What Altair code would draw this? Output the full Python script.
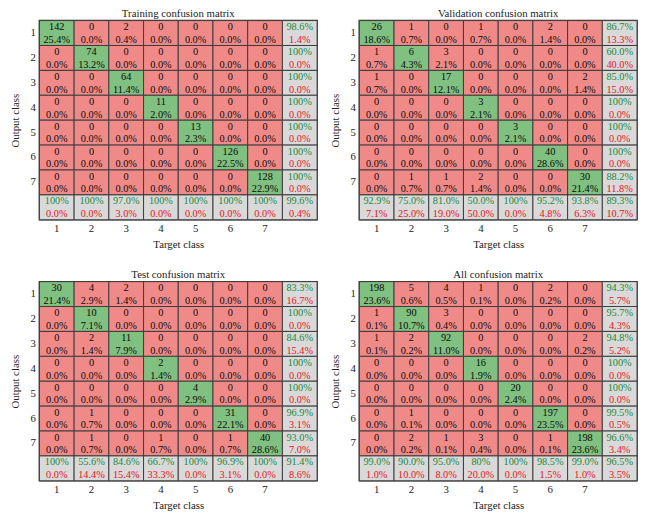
import altair as alt
import pandas as pd

FONT = "Liberation Serif"
ORDER = ["1", "2", "3", "4", "5", "6", "7", "8"]

# ---------------- data ----------------
train_counts = [
    [142, 0, 2, 0, 0, 0, 0],
    [0, 74, 0, 0, 0, 0, 0],
    [0, 0, 64, 0, 0, 0, 0],
    [0, 0, 0, 11, 0, 0, 0],
    [0, 0, 0, 0, 13, 0, 0],
    [0, 0, 0, 0, 0, 126, 0],
    [0, 0, 0, 0, 0, 0, 128],
]
train_row_sum = [("98.6%", "1.4%"), ("100%", "0.0%"), ("100%", "0.0%"), ("100%", "0.0%"),
                 ("100%", "0.0%"), ("100%", "0.0%"), ("100%", "0.0%")]
train_col_sum = [("100%", "0.0%"), ("100%", "0.0%"), ("97.0%", "3.0%"), ("100%", "0.0%"),
                 ("100%", "0.0%"), ("100%", "0.0%"), ("100%", "0.0%")]
train_total = ("99.6%", "0.4%")

val_counts = [
    [26, 1, 0, 1, 0, 2, 0],
    [1, 6, 3, 0, 0, 0, 0],
    [1, 0, 17, 0, 0, 0, 2],
    [0, 0, 0, 3, 0, 0, 0],
    [0, 0, 0, 0, 3, 0, 0],
    [0, 0, 0, 0, 0, 40, 0],
    [0, 1, 1, 2, 0, 0, 30],
]
val_row_sum = [("86.7%", "13.3%"), ("60.0%", "40.0%"), ("85.0%", "15.0%"), ("100%", "0.0%"),
               ("100%", "0.0%"), ("100%", "0.0%"), ("88.2%", "11.8%")]
val_col_sum = [("92.9%", "7.1%"), ("75.0%", "25.0%"), ("81.0%", "19.0%"), ("50.0%", "50.0%"),
               ("100%", "0.0%"), ("95.2%", "4.8%"), ("93.8%", "6.3%")]
val_total = ("89.3%", "10.7%")

test_counts = [
    [30, 4, 2, 0, 0, 0, 0],
    [0, 10, 0, 0, 0, 0, 0],
    [0, 2, 11, 0, 0, 0, 0],
    [0, 0, 0, 2, 0, 0, 0],
    [0, 0, 0, 0, 4, 0, 0],
    [0, 1, 0, 0, 0, 31, 0],
    [0, 1, 0, 1, 0, 1, 40],
]
test_row_sum = [("83.3%", "16.7%"), ("100%", "0.0%"), ("84.6%", "15.4%"), ("100%", "0.0%"),
                ("100%", "0.0%"), ("96.9%", "3.1%"), ("93.0%", "7.0%")]
test_col_sum = [("100%", "0.0%"), ("55.6%", "14.4%"), ("84.6%", "15.4%"), ("66.7%", "33.3%"),
                ("100%", "0.0%"), ("96.9%", "3.1%"), ("100%", "0.0%")]
test_total = ("91.4%", "8.6%")

all_counts = [
    [198, 5, 4, 1, 0, 2, 0],
    [1, 90, 3, 0, 0, 0, 0],
    [1, 2, 92, 0, 0, 0, 2],
    [0, 0, 0, 16, 0, 0, 0],
    [0, 0, 0, 0, 20, 0, 0],
    [0, 1, 0, 0, 0, 197, 0],
    [0, 2, 1, 3, 0, 1, 198],
]
all_row_sum = [("94.3%", "5.7%"), ("95.7%", "4.3%"), ("94.8%", "5.2%"), ("100%", "0.0%"),
               ("100%", "0.0%"), ("99.5%", "0.5%"), ("96.6%", "3.4%")]
all_col_sum = [("99.0%", "1.0%"), ("90.0%", "10.0%"), ("95.0%", "8.0%"), ("80%", "20.0%"),
               ("100%", "0.0%"), ("98.5%", "1.5%"), ("99.0%", "1.0%")]
all_total = ("96.5%", "3.5%")

W, H = 283, 203


def panel(title, counts, row_sum, col_sum, total):
    n = sum(sum(r) for r in counts)
    recs = []
    for i in range(7):
        for j in range(7):
            c = counts[i][j]
            recs.append(dict(row=ORDER[i], col=ORDER[j], kind="diag" if i == j else "off",
                             top=str(c), bot=f"{100 * c / n:.1f}%"))
        recs.append(dict(row=ORDER[i], col="8", kind="sum", top=row_sum[i][0], bot=row_sum[i][1]))
    for j in range(7):
        recs.append(dict(row="8", col=ORDER[j], kind="sum", top=col_sum[j][0], bot=col_sum[j][1]))
    recs.append(dict(row="8", col="8", kind="sum", top=total[0], bot=total[1]))
    df = pd.DataFrame(recs)

    lab = "datum.value == '8' ? '' : datum.value"
    base = alt.Chart(df).encode(
        x=alt.X("col:O", scale=alt.Scale(domain=ORDER, paddingInner=0, paddingOuter=0),
                axis=alt.Axis(title="Target class", labelAngle=0, labelExpr=lab, ticks=False,
                              domain=False, labelPadding=3, titlePadding=5, labelFontSize=11,
                              titleFontSize=11, titleFontWeight="normal", labelFont=FONT,
                              titleFont=FONT, labelColor="#222", titleColor="#222")),
        y=alt.Y("row:O", scale=alt.Scale(domain=ORDER, paddingInner=0, paddingOuter=0),
                axis=alt.Axis(title="Output class", labelExpr=lab, ticks=False, domain=False,
                              labelPadding=4, titlePadding=10, labelFontSize=11,
                              titleFontSize=11, titleFontWeight="normal", labelFont=FONT,
                              titleFont=FONT, labelColor="#222", titleColor="#222")),
    )
    rect = base.mark_rect(stroke="#3c3c3c", strokeWidth=1).encode(
        fill=alt.Fill("kind:N", scale=alt.Scale(domain=["diag", "off", "sum"],
                                                 range=["#80c080", "#f08a88", "#d9d9d9"]),
                      legend=None))
    txt = dict(font=FONT, fontSize=10.5)
    top_c = base.transform_filter("datum.kind != 'sum'").mark_text(dy=-6, color="#0a0a0a", **txt).encode(text="top:N")
    bot_c = base.transform_filter("datum.kind != 'sum'").mark_text(dy=7, color="#0a0a0a", **txt).encode(text="bot:N")
    top_s = base.transform_filter("datum.kind == 'sum'").mark_text(dy=-6, color="#1a8a3a", **txt).encode(text="top:N")
    bot_s = base.transform_filter("datum.kind == 'sum'").mark_text(dy=7, color="#e8141c", **txt).encode(text="bot:N")
    ttl = alt.Chart(pd.DataFrame({"t": [title]})).mark_text(
        font=FONT, fontSize=11, color="#222", baseline="middle", align="center"
    ).encode(text="t:N", x=alt.value(W / 2), y=alt.value(-7))
    return alt.layer(rect, top_c, bot_c, top_s, bot_s, ttl).properties(width=W, height=H)


a = panel("Training confusion matrix", train_counts, train_row_sum, train_col_sum, train_total)
b = panel("Validation confusion matrix", val_counts, val_row_sum, val_col_sum, val_total)
c = panel("Test confusion matrix", test_counts, test_row_sum, test_col_sum, test_total)
d = panel("All confusion matrix", all_counts, all_row_sum, all_col_sum, all_total)

chart = alt.vconcat(
    alt.hconcat(a, b, spacing=9),
    alt.hconcat(c, d, spacing=9),
    spacing=18,
).properties(padding={"top": -6, "left": 0, "right": 0, "bottom": 0}).configure_view(
    stroke="#2a2a2a", strokeWidth=1.5)

chart.save("out.html", embed_options={"renderer": "svg", "actions": False})
